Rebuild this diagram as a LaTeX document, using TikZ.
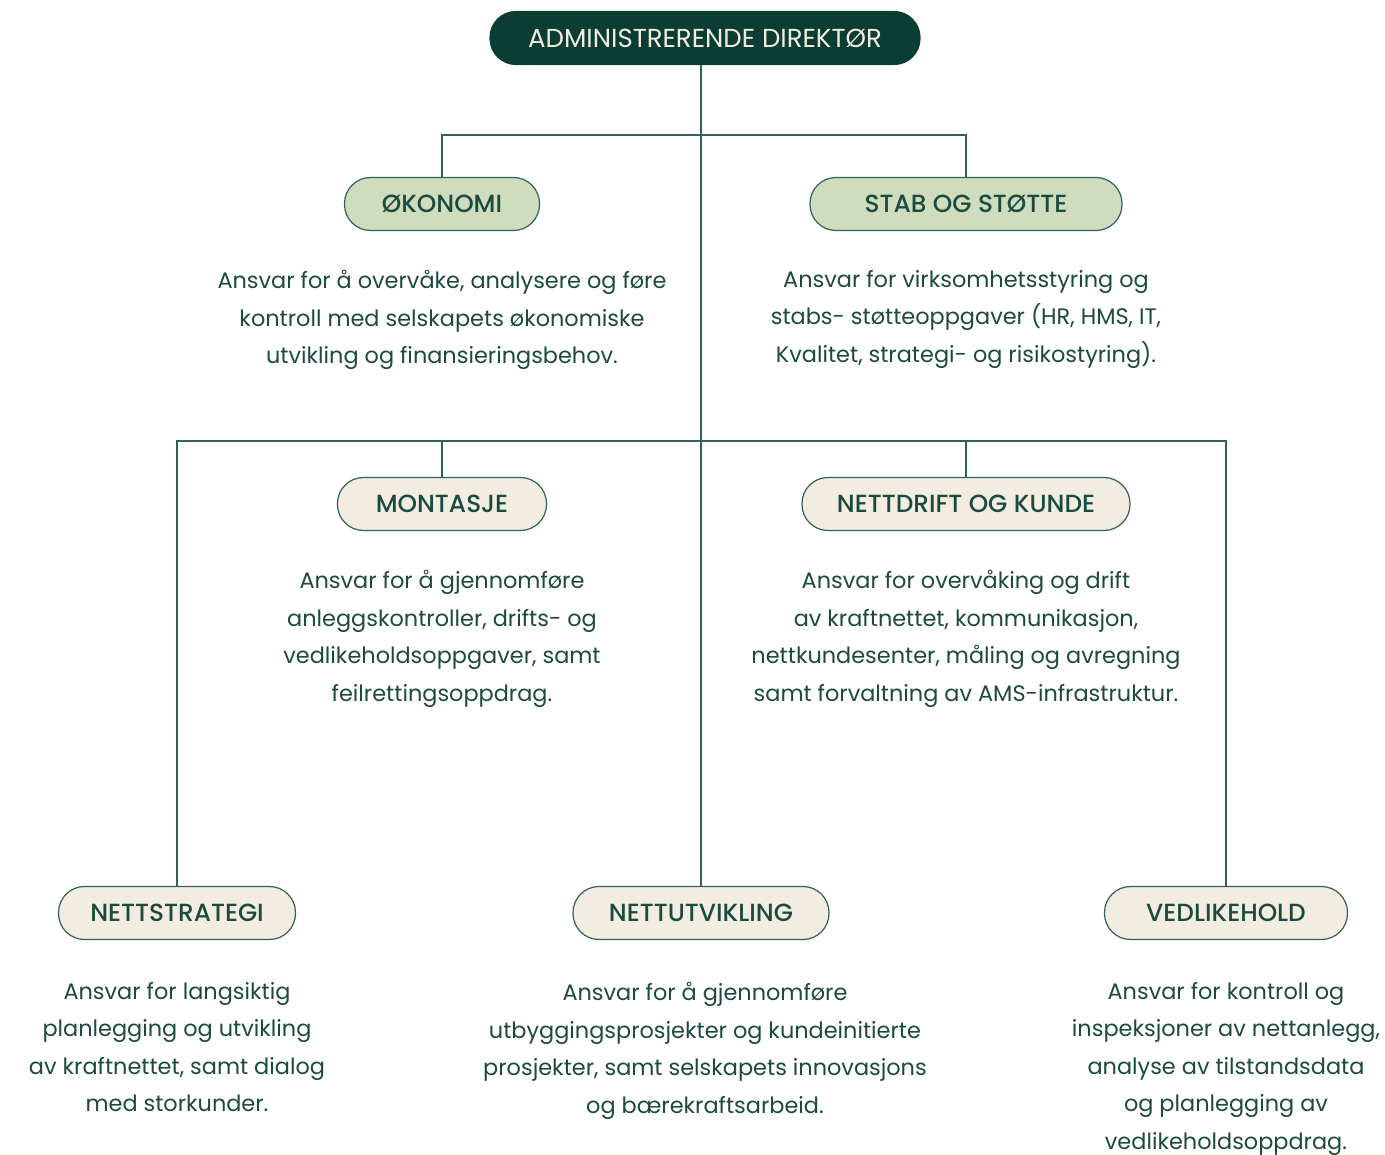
\documentclass[tikz,border=0pt]{standalone}
\usepackage{fontspec}
\setmainfont{Poppins}
\newfontfamily\medium{Poppins Medium}
\usetikzlibrary{positioning}
\definecolor{mork}{HTML}{0A3D33}
\definecolor{linje}{HTML}{2F6358}
\definecolor{tekst}{HTML}{1B4A3E}
\definecolor{lysgronn}{HTML}{CFDCBD}
\definecolor{beige}{HTML}{F3ECE1}
\definecolor{krem}{HTML}{F3ECE1}
\tikzset{
  boks/.style={draw=linje, line width=1.2pt, rounded corners=26pt, minimum height=53pt,
    inner xsep=30pt, text=tekst, font=\medium\fontsize{24.8}{28}\selectfont},
  sjef/.style={boks, fill=mork, draw=mork, text=krem, font=\fontsize{26}{28}\selectfont},
  gronn/.style={boks, fill=lysgronn},
  lys/.style={boks, fill=beige},
  besk/.style={align=center, inner sep=0pt, text=tekst, font=\fontsize{22.4}{37.5}\selectfont},
  gren/.style={draw=linje, line width=1.2pt},
}
\begin{document}
\begin{tikzpicture}[x=1pt,y=-1pt]
\useasboundingbox (0,0) rectangle (1385,1155);
% bokser
\node[sjef, minimum width=430pt] (dir) at (705,38) {ADMINISTRERENDE DIREKTØR};
\node[gronn, minimum width=195pt] (oko) at (442,204) {ØKONOMI};
\node[gronn, minimum width=312pt] (stab) at (966,204) {STAB OG STØTTE};
\node[lys, minimum width=209pt] (mont) at (442,504) {MONTASJE};
\node[lys, minimum width=328pt] (drift) at (966,504) {NETTDRIFT OG KUNDE};
\node[lys, minimum width=237pt] (strat) at (177,913) {NETTSTRATEGI};
\node[lys, minimum width=256pt] (utv) at (701,913) {NETTUTVIKLING};
\node[lys, minimum width=243pt] (vedl) at (1226,913) {VEDLIKEHOLD};
% beskrivelser
\node[besk, below=39pt of oko] (okot) {Ansvar for å overvåke, analysere og føre\\kontroll med selskapets økonomiske\\utvikling og finansieringsbehov.};
\node[besk, below=39pt of stab] (stabt) {Ansvar for virksomhetsstyring og\\stabs- støtteoppgaver (HR, HMS, IT,\\Kvalitet, strategi- og risikostyring).};
\node[besk, below=39pt of mont] (montt) {Ansvar for å gjennomføre\\anleggskontroller, drifts- og\\vedlikeholdsoppgaver, samt\\feilrettingsoppdrag.};
\node[besk, below=39pt of drift] (driftt) {Ansvar for overvåking og drift\\av kraftnettet, kommunikasjon,\\nettkundesenter, måling og avregning\\samt forvaltning av AMS-infrastruktur.};
\node[besk, below=42pt of strat] (stratt) {Ansvar for langsiktig\\planlegging og utvikling\\av kraftnettet, samt dialog\\med storkunder.};
\node[besk, below=42pt of utv, xshift=4pt] (utvt) {Ansvar for å gjennomføre\\utbyggingsprosjekter og kundeinitierte\\prosjekter, samt selskapets innovasjons\\og bærekraftsarbeid.};
\node[besk, below=42pt of vedl] (vedlt) {Ansvar for kontroll og\\inspeksjoner av nettanlegg,\\analyse av tilstandsdata\\og planlegging av\\vedlikeholdsoppdrag.};
% linjer
\coordinate (niva1) at (0,135);
\coordinate (niva2) at (0,441);
\draw[gren] (utv.north |- dir.south) -- (utv.north);
\draw[gren] (oko.north) -- (oko.north |- niva1) -- (stab.north |- niva1) -- (stab.north);
\draw[gren] (strat.north) -- (strat.north |- niva2) -- (vedl.north |- niva2) -- (vedl.north);
\foreach \n in {mont,drift}
  \draw[gren] (\n.north) -- (\n.north |- niva2);
\end{tikzpicture}
\end{document}
